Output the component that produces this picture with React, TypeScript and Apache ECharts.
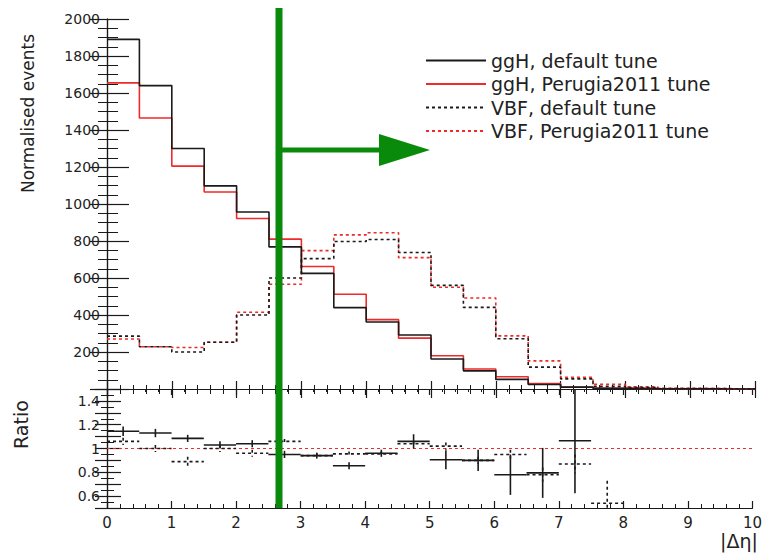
import React, { useEffect, useRef } from "react";
import * as echarts from "echarts";

// Bin lower edges for |Δη| (bin width 0.5)
const binLow = [0, 0.5, 1, 1.5, 2, 2.5, 3, 3.5, 4, 4.5, 5, 5.5, 6, 6.5, 7, 7.5, 8, 8.5, 9, 9.5];
const BIN_W = 0.5;
const X_MAX = 10;

// Histogram values (normalised events)
const ggHDefault = [1890, 1640, 1300, 1098, 957, 768, 625, 440, 362, 292, 162, 98, 52, 24, 10, 4, 2, 1, 0.5, 0.3];
const ggHPerugia = [1655, 1465, 1205, 1065, 922, 810, 662, 512, 375, 275, 180, 108, 66, 30, 9.4, 4, 2, 1, 0.5, 0.3];
const vbfDefault = [286, 228, 200, 253, 400, 600, 705, 797, 808, 738, 560, 441, 272, 118, 55, 14, 8, 3, 2, 1];
const vbfPerugia = [270, 228, 224, 253, 415, 566, 748, 833, 845, 710, 550, 492, 287, 152, 63, 26, 12, 4, 2, 1];

// Ratio panel (default / Perugia2011) with errors
const ggHRatio = [1.145, 1.13, 1.085, 1.03, 1.04, 0.95, 0.94, 0.855, 0.96, 1.06, 0.905, 0.9, 0.78, 0.795, 1.065];
const ggHRatioErr = [0.04, 0.035, 0.03, 0.03, 0.03, 0.03, 0.025, 0.03, 0.03, 0.06, 0.08, 0.09, 0.17, 0.21, 0.44];
const vbfRatio = [1.06, 1.0, 0.89, 1.0, 0.96, 1.06, 0.94, 0.955, 0.955, 1.04, 1.02, 0.9, 0.95, 0.78, 0.87, 0.54];
const vbfRatioErr = [0.03, 0.03, 0.04, 0.03, 0.03, 0.02, 0.02, 0.02, 0.02, 0.02, 0.03, 0.03, 0.04, 0.06, 0.08, 0.19];

const yTopTicks = { min: 0, max: 2000, interval: 200 };
const yRatioTicks = { min: 0.5, max: 1.5, interval: 0.1 };

const seriesNames = ["ggH, default tune", "ggH, Perugia2011 tune", "VBF, default tune", "VBF, Perugia2011 tune"];

const BLACK = "#1a1a1a";
const RED = "#ee2a2a";
const GREEN = "#0a8a0a";
const FONT = "DejaVu Sans";

function stepData(vals: number[]) {
  const pts: number[][] = binLow.map((x, i) => [x, vals[i]]);
  pts.push([X_MAX, vals[vals.length - 1]]);
  return pts;
}

function ratioData(vals: number[], errs: number[]) {
  return vals.map((v, i) => [binLow[i] + BIN_W / 2, v, errs[i]]);
}

function makeRatioRender(color: string, dash: number[] | null) {
  return (params: any, api: any) => {
    const x = api.value(0);
    const y = api.value(1);
    const e = api.value(2);
    const lo = Math.max(yRatioTicks.min, y - e);
    const hi = Math.min(yRatioTicks.max, y + e);
    const children: any[] = [];
    const style = { stroke: color, lineWidth: 1.6, lineDash: dash || undefined, fill: null };
    if (y >= yRatioTicks.min && y <= yRatioTicks.max) {
      const l = api.coord([x - BIN_W / 2, y]);
      const r = api.coord([x + BIN_W / 2, y]);
      children.push({ type: "line", shape: { x1: l[0], y1: l[1], x2: r[0], y2: r[1] }, style });
    }
    const t = api.coord([x, hi]);
    const b = api.coord([x, lo]);
    children.push({ type: "line", shape: { x1: t[0], y1: t[1], x2: b[0], y2: b[1] }, style });
    return { type: "group", children };
  };
}

const axisLine = { show: true, lineStyle: { color: BLACK, width: 1.2 } };

function xAx(gridIndex: number, position: string, showLabel: boolean, tickLen: number) {
  return {
    type: "value",
    gridIndex,
    position,
    min: 0,
    max: X_MAX,
    interval: 1,
    axisLine,
    axisTick: { show: true, inside: true, length: tickLen, lineStyle: { color: BLACK, width: 1.2 } },
    minorTick: { show: true, splitNumber: 5, length: Math.round(tickLen / 2), lineStyle: { color: BLACK, width: 1 } },
    splitLine: { show: false },
    axisLabel: {
      show: showLabel,
      fontFamily: FONT,
      fontSize: 15,
      color: "#222",
      margin: 7,
      formatter: (v: number) => String(v),
    },
  };
}

function yAx(gridIndex: number, position: string, showLabel: boolean, t: any, tickLen: number, minorSplit: number, fmt: any) {
  return {
    type: "value",
    gridIndex,
    position,
    min: t.min,
    max: t.max,
    interval: t.interval,
    axisLine,
    axisTick: { show: true, inside: true, length: tickLen, lineStyle: { color: BLACK, width: 1.2 } },
    minorTick: { show: true, splitNumber: minorSplit, length: Math.round(tickLen / 2), lineStyle: { color: BLACK, width: 1 } },
    splitLine: { show: false },
    axisLabel: {
      show: showLabel,
      fontFamily: FONT,
      fontSize: 14,
      color: "#222",
      margin: 7,
      showMinLabel: gridIndex === 0 ? false : true,
      formatter: fmt,
    },
  };
}

export default function App() {
  const ref = useRef<HTMLDivElement>(null);
  useEffect(() => {
    if (!ref.current) return;
    const chart = echarts.init(ref.current, undefined, { renderer: "svg" });
    const ratioFmt = (v: number) => {
      const r = Math.round(v * 10);
      if (r % 2 !== 0) return "";
      if (r === 10) return "1";
      return (r / 10).toFixed(1);
    };
    const plainFmt = (v: number) => String(Math.round(v));
    const option: any = {
      animation: false,
      backgroundColor: "#ffffff",
      grid: [
        { left: 107, top: 19, width: 648, height: 370 },
        { left: 107, top: 389, width: 648, height: 119 },
      ],
      xAxis: [
        xAx(0, "bottom", false, 8),
        xAx(0, "top", false, 9),
        xAx(1, "bottom", true, 7),
        xAx(1, "top", false, 6),
      ],
      yAxis: [
        yAx(0, "left", true, yTopTicks, 22, 4, plainFmt),
        yAx(0, "right", false, yTopTicks, 17, 4, plainFmt),
        yAx(1, "left", true, yRatioTicks, 14, 2, ratioFmt),
        yAx(1, "right", false, yRatioTicks, 12, 2, ratioFmt),
      ],
      legend: {
        data: seriesNames,
        orient: "vertical",
        left: 420,
        top: 46,
        itemWidth: 60,
        itemHeight: 14,
        itemGap: 4.5,
        itemStyle: { opacity: 0 },
        textStyle: { fontFamily: FONT, fontSize: 19, color: "#222", lineHeight: 14 },
        selectedMode: false,
      },
      series: [
        {
          name: seriesNames[0], type: "line", xAxisIndex: 0, yAxisIndex: 0, step: "end",
          data: stepData(ggHDefault), symbol: "none", lineStyle: { color: BLACK, width: 1.6 }, itemStyle: { color: BLACK }, z: 4,
        },
        {
          name: seriesNames[1], type: "line", xAxisIndex: 0, yAxisIndex: 0, step: "end",
          data: stepData(ggHPerugia), symbol: "none", lineStyle: { color: RED, width: 1.6 }, itemStyle: { color: RED }, z: 3,
        },
        {
          name: seriesNames[2], type: "line", xAxisIndex: 0, yAxisIndex: 0, step: "end",
          data: stepData(vbfDefault), symbol: "none", lineStyle: { color: BLACK, width: 1.6, type: [3, 3] }, itemStyle: { color: BLACK }, z: 4,
        },
        {
          name: seriesNames[3], type: "line", xAxisIndex: 0, yAxisIndex: 0, step: "end",
          data: stepData(vbfPerugia), symbol: "none", lineStyle: { color: RED, width: 1.6, type: [3, 3] }, itemStyle: { color: RED }, z: 3,
        },
        {
          name: "unity", type: "line", xAxisIndex: 2, yAxisIndex: 2,
          data: [[0, 1], [X_MAX, 1]], symbol: "none", lineStyle: { color: RED, width: 1.2, type: [3, 3] }, z: 2,
        },
        {
          name: "ggH ratio", type: "custom", xAxisIndex: 2, yAxisIndex: 2,
          data: ratioData(ggHRatio, ggHRatioErr), renderItem: makeRatioRender(BLACK, null), z: 4,
        },
        {
          name: "VBF ratio", type: "custom", xAxisIndex: 2, yAxisIndex: 2,
          data: ratioData(vbfRatio, vbfRatioErr), renderItem: makeRatioRender(BLACK, [3, 3]), z: 3,
        },
      ],
      graphic: [
        {
          type: "text", z: 10, rotation: Math.PI / 2, x: 19, y: 193,
          style: { text: "Normalised events", fontFamily: FONT, fontSize: 17, fill: "#222" },
        },
        {
          type: "text", z: 10, rotation: Math.PI / 2, x: 11, y: 449,
          style: { text: "Ratio", fontFamily: FONT, fontSize: 19, fill: "#222" },
        },
        {
          type: "text", z: 10, x: 720, y: 531,
          style: { text: "|Δη|", fontFamily: FONT, fontSize: 19, fill: "#222" },
        },
        {
          type: "line", z: 20,
          shape: { x1: 279, y1: 8, x2: 279, y2: 508 },
          style: { stroke: GREEN, lineWidth: 7 },
        },
        {
          type: "line", z: 20,
          shape: { x1: 279, y1: 150, x2: 384, y2: 150 },
          style: { stroke: GREEN, lineWidth: 5 },
        },
        {
          type: "polygon", z: 20,
          shape: { points: [[379, 134], [430, 150], [379, 166]] },
          style: { fill: GREEN },
        },
      ],
    };
    chart.setOption(option);
    return () => chart.dispose();
  }, []);
  return <div ref={ref} style={{ width: 765, height: 555, position: "absolute", left: 0, top: 0 }} />;
}
